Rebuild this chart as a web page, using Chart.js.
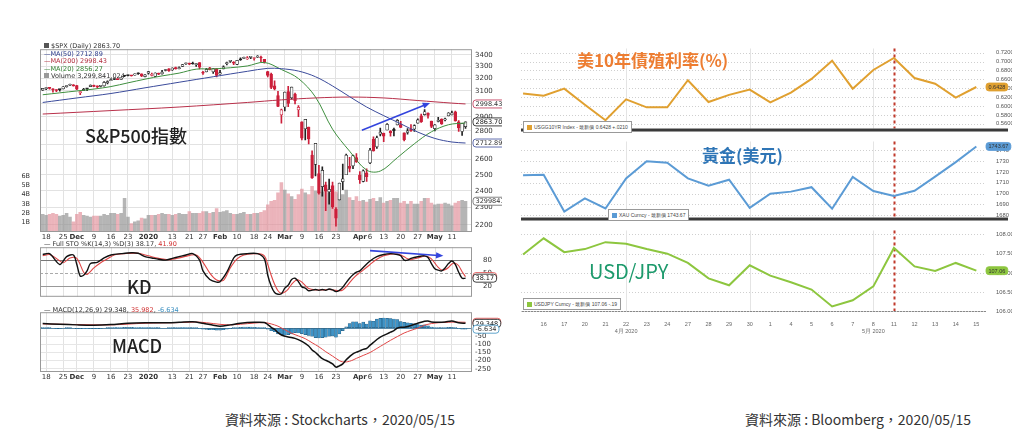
<!DOCTYPE html>
<html>
<head>
<meta charset="utf-8">
<script src="https://cdn.jsdelivr.net/npm/chart.js@4.4.0/dist/chart.umd.min.js"></script>
<style>
  body { margin:0; width:1024px; height:430px; background:#fff; position:relative; overflow:hidden; }
  canvas, .txt { position:absolute; }
  .sc { font-family:"DejaVu Sans",sans-serif; font-size:6.5px; line-height:7.6px; color:#333; white-space:nowrap; }
  .big { font-family:"Noto Sans CJK TC","Noto Sans",sans-serif; line-height:1; white-space:nowrap; }
  .bbleg { font-family:"Liberation Sans",sans-serif; font-size:5px; color:#444; background:#fff; border:1px solid #999; padding:2px 3px; white-space:nowrap; }
  .bbleg i { display:inline-block; width:5px; height:5px; margin-right:2px; vertical-align:-1px; }
  .cap { font-family:"Noto Sans CJK TC",sans-serif; font-size:14px; color:#333; white-space:nowrap; }
</style>
</head>
<body>
<canvas id="price" width="482" height="200" style="left:20px;top:42px"></canvas>
<canvas id="kd" width="482" height="64" style="left:20px;top:240px"></canvas>
<canvas id="macd" width="482" height="77" style="left:20px;top:305px"></canvas>
<canvas id="yld" width="491" height="93" style="left:521px;top:42px"></canvas>
<canvas id="gold" width="491" height="89" style="left:521px;top:135px"></canvas>
<canvas id="jpy" width="491" height="112" style="left:521px;top:224px"></canvas>

<div class="txt sc" style="left:44px;top:43px">
  <div><b style="display:inline-block;width:5px;height:5px;background:#555;margin-right:2px"></b>$SPX (Daily) 2863.70</div>
  <div style="color:#2a3a8a">&#8212;MA(50) 2712.89</div>
  <div style="color:#b23040">&#8212;MA(200) 2998.43</div>
  <div style="color:#2f7f2f">&#8212;MA(20) 2856.27</div>
  <div><b style="display:inline-block;width:5px;height:5px;background:#999;margin-right:2px"></b>Volume 3,299,841,024</div>
</div>
<div class="txt sc" style="left:44px;top:241px">&#8212; Full STO %K(14,3) %D(3) 38.17, <span style="color:#d03030">41.90</span></div>
<div class="txt sc" style="left:44px;top:307px">&#8212; MACD(12,26,9) 29.348, <span style="color:#d03030">35.982</span>, <span style="color:#3a8fc0">-6.634</span></div>

<div class="txt big" style="left:85px;top:126px;font-size:18px;font-weight:500;color:#222">S&amp;P500指數</div>
<div class="txt big" style="left:127px;top:277px;font-size:18px;font-weight:500;color:#222">KD</div>
<div class="txt big" style="left:112px;top:336px;font-size:18px;font-weight:500;color:#222">MACD</div>

<div class="txt big" style="left:577px;top:51px;font-size:17px;font-weight:bold;color:#ed7d31">美10年債殖利率(%)</div>
<div class="txt big" style="left:702px;top:146px;font-size:17px;font-weight:bold;color:#2e75b6">黃金(美元)</div>
<div class="txt big" style="left:589px;top:261px;font-size:20px;color:#1d9a6c">USD/JPY</div>

<div class="txt bbleg" style="left:523px;top:121px"><i style="background:#e0a030"></i>USGG10YR Index - 最新價 0.6428 +.0210</div>
<div class="txt bbleg" style="left:608px;top:209px"><i style="background:#5b9bd5"></i>XAU Curncy - 最新價 1743.67</div>
<div class="txt bbleg" style="left:523px;top:298px"><i style="background:#8dc63f"></i>USDJPY Curncy - 最新價 107.06 -.19</div>

<div class="txt cap" style="left:225px;top:409px">資料來源 : Stockcharts，2020/05/15</div>
<div class="txt cap" style="left:745px;top:409px">資料來源 : Bloomberg，2020/05/15</div>

<script>
// S&P 500 daily, Nov 15 2019 (index 0) to May 15 2020 (index 124)
const spxOpen = [3107,3118,3127,3115,3109,3112,3117,3135,3146,3148,
  3144,3087,3103,3119,3134,3141,3135,3136,3141,3167,
  3183,3195,3195,3192,3223,3226,3225,3227,3247,3240,
  3216,3245,3226,3218,3242,3238,3267,3281,3271,3285,
  3283,3302,3324,3321,3330,3316,3334,3248,3256,3289,
  3256,3282,3236,3280,3324,3344,3335,3318,3366,3370,
  3365,3378,3369,3380,3380,3361,3258,3238,3140,3063,
  2916,2975,3096,3046,3076,2954,2864,2814,2826,2630,
  2569,2509,2426,2437,2394,2431,2291,2345,2457,2501,
  2555,2558,2614,2499,2459,2514,2578,2738,2686,2776,
  2782,2805,2795,2812,2842,2845,2785,2787,2810,2812,
  2854,2909,2918,2930,2869,2815,2868,2884,2879,2909,
  2915,2939,2865,2794,2829];
const spxHigh = [3121,3124,3128,3118,3111,3112,3134,3142,3155,3151,
  3145,3095,3120,3119,3150,3148,3142,3144,3176,3182,
  3198,3198,3198,3206,3226,3227,3226,3240,3247,3240,
  3232,3258,3246,3247,3245,3268,3275,3282,3289,3295,
  3298,3317,3330,3330,3337,3326,3334,3259,3286,3293,
  3286,3282,3268,3306,3337,3348,3342,3353,3375,3381,
  3385,3381,3375,3393,3390,3361,3259,3246,3182,3098,
  2959,3091,3137,3131,3084,2986,2864,2883,2826,2660,
  2711,2563,2553,2454,2473,2454,2300,2449,2571,2637,
  2615,2631,2641,2522,2533,2539,2676,2756,2761,2819,
  2783,2851,2801,2818,2880,2868,2785,2815,2844,2842,
  2887,2922,2955,2931,2869,2844,2898,2887,2892,2933,
  2945,2945,2874,2853,2865];
const spxLow = [3105,3111,3114,3091,3095,3099,3117,3131,3144,3139,
  3110,3070,3103,3103,3134,3135,3126,3133,3138,3156,
  3183,3191,3191,3192,3216,3222,3220,3227,3235,3216,
  3213,3236,3222,3215,3233,3236,3263,3260,3268,3277,
  3280,3302,3318,3316,3321,3302,3281,3235,3254,3271,
  3243,3214,3236,3280,3313,3335,3315,3317,3353,3369,
  3361,3368,3355,3378,3341,3328,3214,3118,3108,2977,
  2855,2945,2977,3035,2999,2902,2734,2734,2706,2478,
  2493,2380,2367,2281,2320,2295,2192,2345,2407,2501,
  2520,2540,2581,2447,2455,2459,2574,2657,2676,2762,
  2722,2805,2761,2762,2842,2821,2727,2775,2794,2795,
  2854,2860,2913,2892,2821,2798,2863,2845,2871,2908,
  2915,2869,2794,2766,2816];
const spxClose = [3120.5,3122.0,3120.2,3108.5,3103.5,3110.3,3133.6,3140.5,3153.6,3141.0,
  3113.9,3093.2,3112.8,3117.4,3145.9,3136.0,3132.5,3141.6,3168.6,3168.8,
  3191.5,3192.5,3191.1,3205.4,3221.2,3224.0,3223.4,3239.9,3240.0,3221.3,
  3230.8,3257.9,3234.9,3246.3,3237.2,3253.1,3274.7,3265.4,3288.1,3283.2,
  3289.3,3316.8,3329.6,3320.8,3321.8,3325.5,3295.5,3243.6,3276.2,3273.4,
  3283.7,3225.5,3248.9,3297.6,3334.7,3345.8,3327.7,3352.1,3357.8,3379.5,
  3373.9,3380.2,3370.3,3386.2,3373.2,3337.8,3225.9,3128.2,3116.4,2978.8,
  2954.2,3090.2,3003.4,3130.1,3023.9,2972.4,2746.6,2882.2,2741.4,2480.6,
  2711.0,2386.1,2529.2,2398.1,2409.4,2304.9,2237.4,2447.3,2475.6,2630.1,
  2541.5,2626.7,2584.6,2470.5,2526.9,2488.7,2663.7,2659.4,2750.0,2789.8,
  2761.6,2846.1,2783.4,2799.6,2874.6,2823.2,2736.6,2799.3,2797.8,2836.7,
  2878.5,2863.4,2939.5,2912.4,2830.7,2842.7,2868.4,2848.4,2881.2,2929.8,
  2930.3,2870.1,2820.0,2852.5,2863.7];
// volume in billions
const spxVolume = [1.9,1.8,1.9,2.0,1.9,1.7,1.8,2.0,1.6,1.1,
  1.9,2.1,1.8,1.7,1.6,1.7,1.7,1.7,1.9,1.8,
  2.0,2.0,1.9,2.0,3.6,1.6,0.9,1.1,1.2,1.5,
  1.4,1.8,1.8,1.8,1.9,2.0,1.9,1.9,1.8,1.9,
  2.0,1.9,1.9,2.2,2.0,2.0,2.0,2.2,2.2,2.0,
  2.1,2.5,2.1,2.2,2.3,2.0,1.9,1.9,2.0,2.1,
  1.9,1.9,2.0,2.0,2.1,2.3,2.9,3.3,3.4,4.2,
  5.3,4.5,4.1,3.8,3.5,4.0,4.6,4.2,4.0,4.9,
  4.4,4.3,4.3,4.7,4.2,5.0,4.3,4.1,4.0,4.5,
  3.7,3.4,3.8,3.3,3.4,3.2,3.5,3.6,3.3,3.7,
  3.1,3.3,3.4,3.6,3.6,3.1,3.3,3.0,3.3,3.0,
  3.0,3.3,3.6,3.6,3.1,2.9,3.0,3.0,3.1,3.0,
  2.8,3.1,3.3,3.4,3.3];

// moving averages, read at selected days
const ma20Day = [0,5,10,15,20,25,30,35,40,45,50,55,60,65,70,75,80,85,90,95,99,104,109,114,119,124];
const ma20 = [3070,3085,3100,3115,3135,3165,3195,3222,3245,3278,3280,3290,3305,3335,3275,3200,3052,2811,2657,2531,2525,2613,2708,2792,2843,2856.27];
const ma50Day = [0,10,20,30,40,50,60,66,70,75,80,85,90,95,100,105,110,115,120,124];
const ma50 = [3010,3045,3080,3125,3170,3215,3260,3285,3282,3262,3215,3140,3055,2975,2910,2850,2790,2745,2720,2712.89];
const ma200Day = [0,20,40,60,70,80,90,100,110,120,124];
const ma200 = [2922,2948,2975,3010,3030,3045,3052,3045,3025,3005,2998.43];

// Full stochastics
const kDay = [0,2,5,7,9,10,11,12,13,14,16,18,20,23,26,28,30,32,34,36,38,40,42,44,46,47,49,51,52,54,56,57,60,63,65,66,67,68,69,70,71,72,73,74,75,76,77,78,80,81,82,83,84,85,86,87,88,89,90,91,92,93,94,96,98,100,102,104,105,106,107,108,110,112,113,114,115,116,117,118,119,120,121,122,123,124];
const kValue = [93,95,70,88,92,70,43,45,55,72,75,85,92,95,97,96,88,85,82,80,84,88,92,95,80,55,35,29,30,52,85,92,95,95,83,45,20,5,1,2,15,22,35,38,30,18,15,9,12,10,12,10,13,11,7,10,17,28,38,46,52,55,63,78,88,93,95,93,90,80,80,84,88,90,86,72,60,57,55,62,72,78,70,52,38,38.17];
const dDay = [0,2,4,6,8,10,12,13,15,17,19,21,24,28,31,34,37,41,45,47,49,51,53,55,57,59,63,65,66,67,68,69,70,71,72,73,74,75,76,77,78,80,82,84,86,87,88,89,90,91,92,93,94,96,98,100,102,104,105,106,107,108,110,112,113,114,115,116,117,118,119,120,121,122,123,124];
const dValue = [90,93,84,74,85,84,52,47,62,74,83,92,95,96,90,84,81,87,92,75,50,34,33,62,83,92,95,90,70,45,24,9,3,6,13,24,32,34,29,21,14,11,11,12,10,9,11,18,28,37,45,51,57,70,82,90,94,94,92,88,83,81,85,89,88,83,73,63,57,58,63,71,73,67,53,41.9];

// MACD(12,26,9)
const macdDay = [0,5,10,15,20,25,30,35,40,44,47,50,52,55,58,62,65,66,67,68,69,70,72,74,76,78,79,80,81,82,83,84,85,86,87,88,89,90,91,92,93,94,95,96,97,98,99,100,101,102,103,104,105,106,108,110,112,113,114,116,118,120,122,124];
const macdValue = [28,24,20,18,22,30,33,33,36,39,30,18,12,20,30,36,35,22,5,-8,-28,-42,-55,-63,-82,-110,-135,-150,-170,-188,-198,-208,-220,-240,-232,-220,-195,-175,-158,-148,-140,-131,-125,-105,-88,-70,-55,-45,-35,-25,-15,0,6,5,16,30,42,44,38,36,38,44,33,29.348];
const signalDay = [0,10,20,30,40,46,50,54,58,62,65,67,69,71,73,75,77,79,81,83,85,87,88,89,90,91,92,94,96,98,100,102,104,106,108,110,112,114,116,118,120,122,124];
const signalValue = [26,22,20,30,34,37,28,20,24,31,34,26,12,-10,-32,-48,-65,-90,-115,-145,-172,-200,-208,-208,-204,-196,-186,-168,-150,-125,-100,-75,-52,-30,-14,0,18,28,33,35,37,37,35.982];
const histValue = [2,2,1,0,-1,-1,0,1,1,0,
  -1,-2,-3,-3,-2,-2,-2,-1,0,1,
  2,3,3,4,5,5,5,4,4,3,
  3,3,2,1,1,0,0,1,2,2,
  2,3,3,2,2,1,-3,-6,-8,-10,
  -10,-12,-12,-10,-6,-2,1,3,5,6,
  6,6,5,4,2,1,-6,-16,-22,-36,
  -40,-42,-40,-35,-28,-30,-34,-40,-45,-50,
  -58,-60,-58,-55,-50,-48,-56,-35,-15,8,
  28,38,38,28,37,25,45,42,55,60,
  62,60,58,56,52,40,35,32,30,26,
  22,18,20,14,6,3,2,1,3,5,
  5,1,-3,-6,-6.634];

// date axis (left chart)
const spxTickDay = [1,6,10,15,20,25,31,38,43,47,52,57,62,66,71,76,81,86,93,96,100,105,110,115,120];
const spxTickText = ['18','25','Dec','9','16','23','2020','13','21','27','Feb','10','18','24','Mar','9','16','23','Apr','6','13','20','27','May','11'];
const spxBoldTicks = ['Dec','2020','Feb','Mar','Apr','May'];
const priceTicks = [2200,2300,2400,2500,2600,2700,2800,2900,3000,3100,3200,3300,3400];
const volumeTicks = [1,2,3,4,5,6];
const kdTicks = [20,50,80];
const macdTicks = [-250,-200,-150,-100,-50,0];
// hand-drawn arrows: [fromDay, fromValue, toDay, toValue]
const priceArrow = [93.6, 2804, 113.6, 3006];
const kdArrow = [96, 102, 117.5, 90];

// Bloomberg panel, Apr 15 - May 15 2020
const bbDays = ['15','16','17','20','21','22','23','24','27','28','29','30','1','4','5','6','7','8','11','12','13','14','15'];
const us10y = [0.628,0.623,0.639,0.603,0.568,0.615,0.597,0.597,0.658,0.609,0.625,0.637,0.608,0.630,0.661,0.702,0.639,0.681,0.708,0.663,0.650,0.619,0.6428];
const gold = [1716.9,1717.4,1683.3,1695.6,1686.2,1714.1,1730.0,1728.6,1714.1,1707.3,1712.8,1686.8,1699.9,1701.8,1705.9,1686.0,1715.5,1702.4,1697.7,1702.6,1715.7,1729.2,1743.67];
const usdjpy = [107.48,107.90,107.54,107.62,107.80,107.76,107.62,107.50,107.26,106.86,106.68,107.20,106.93,106.76,106.57,106.13,106.29,106.65,107.65,107.17,107.05,107.26,107.06];
const yieldTicks = [0.56,0.58,0.60,0.62,0.64,0.66,0.68,0.70,0.72];
const goldTicks = [1680,1690,1700,1710,1720,1730,1740];
const jpyTicks = [106.0,106.5,107.0,107.5,108.0];
const monthNote = {5:'4月 2020', 17:'5月 2020'};
const bbGridDays = [5,11,17];
const markDay = 18;

Chart.defaults.font.family = 'DejaVu Sans';
Chart.defaults.animation = false;
Chart.defaults.events = [];
Chart.defaults.plugins.legend.display = false;
Chart.defaults.plugins.tooltip.enabled = false;

const RED = '#cc1f3a', BLK = '#222';
const pts = (days, vals) => days.map((d, i) => ({x: d, y: vals[i]}));

// little plugins
const frame = { id:'frame', afterDraw(c) {
  const a = c.chartArea, g = c.ctx;
  g.save(); g.strokeStyle = '#999'; g.lineWidth = 1;
  g.strokeRect(a.left + .5, a.top + .5, a.width - 1, a.height - 1); g.restore();
}};
function hLines(axis, lines) {
  return { id:'hl', beforeDatasetsDraw(c) {
    const s = c.scales[axis], a = c.chartArea, g = c.ctx;
    lines.forEach(l => {
      const y = Math.round(s.getPixelForValue(l.v)) + .5;
      g.save(); g.strokeStyle = l.color; g.lineWidth = l.w || 1; g.setLineDash(l.dash || []);
      g.beginPath(); g.moveTo(a.left, y); g.lineTo(a.right, y); g.stroke(); g.restore();
    });
  }};
}
function vLines(lines) {
  return { id:'vl', beforeDatasetsDraw(c) {
    const s = c.scales.x, a = c.chartArea, g = c.ctx;
    lines.forEach(l => {
      const x = Math.round(s.getPixelForValue(l.v)) + .5;
      g.save(); g.strokeStyle = l.color; g.lineWidth = l.w || 1; g.setLineDash(l.dash || []);
      g.beginPath(); g.moveTo(x, a.top); g.lineTo(x, a.bottom); g.stroke(); g.restore();
    });
  }};
}
function tags(list) {
  return { id:'tags', afterDraw(c) {
    const g = c.ctx;
    list.forEach(t => {
      const s = c.scales[t.axis], y = s.getPixelForValue(t.v), x = c.scales[t.at || t.axis].left + 1;
      g.save(); g.font = t.font || '6.5px DejaVu Sans';
      const w = g.measureText(t.text).width + 5, h = 8;
      g.beginPath(); g.roundRect(x, y - h / 2, w, h, 3);
      g.fillStyle = t.fill || '#fff'; g.fill();
      g.strokeStyle = t.color; g.lineWidth = 0.8; g.stroke();
      g.fillStyle = t.textColor || t.color; g.textBaseline = 'middle';
      g.fillText(t.text, x + 2.5, y + .5); g.restore();
    });
  }};
}
function arrow(axis, a) {
  return { id:'arrow', afterDatasetsDraw(c) {
    const sx = c.scales.x, sy = c.scales[axis], g = c.ctx;
    const x0 = sx.getPixelForValue(a[0]), y0 = sy.getPixelForValue(a[1]);
    const x1 = sx.getPixelForValue(a[2]), y1 = sy.getPixelForValue(a[3]);
    const ang = Math.atan2(y1 - y0, x1 - x0);
    g.save(); g.strokeStyle = g.fillStyle = '#3344dd'; g.lineWidth = 1.6;
    g.beginPath(); g.moveTo(x0, y0); g.lineTo(x1 - 5 * Math.cos(ang), y1 - 5 * Math.sin(ang)); g.stroke();
    g.beginPath(); g.moveTo(x1, y1);
    g.lineTo(x1 - 8 * Math.cos(ang - .4), y1 - 8 * Math.sin(ang - .4));
    g.lineTo(x1 - 8 * Math.cos(ang + .4), y1 - 8 * Math.sin(ang + .4));
    g.closePath(); g.fill(); g.restore();
  }};
}
function separator() {
  return { id:'sep', afterDraw(c) {
    const g = c.ctx;
    g.save(); g.fillStyle = '#3a3a3a'; g.fillRect(0, c.chartArea.bottom, c.width - 4, 3); g.restore();
  }};
}

// ---------- Stockcharts side ----------
const days = spxClose.map((v, i) => i);
const downDay = spxClose.map((c, i) => i > 0 && c < spxClose[i - 1]);
const candleColor = downDay.map(d => d ? RED : BLK);
const dateAxis = (show) => ({
  type:'linear', min:-0.8, max:125.9, offset:false, display: show ? true : false,
  afterBuildTicks: s => { s.ticks = spxTickDay.map(v => ({value: v})); },
  afterFit: s => { s.height = show ? 10 : 0; },
  grid:{ color:'#e2e2e2', drawTicks:false, offset:false },
  border:{ display:false },
  ticks:{ autoSkip:false, maxRotation:0, padding:1, color:'#333',
    font: ctx => ({ size:7, weight: spxBoldTicks.includes(spxTickText[spxTickDay.indexOf(ctx.tick && ctx.tick.value)]) ? 'bold' : 'normal' }),
    callback: v => spxTickText[spxTickDay.indexOf(v)] }
});

new Chart(document.getElementById('price'), {
  type:'bar',
  data:{ datasets:[
    { type:'line', data:pts(ma50Day, ma50), borderColor:'#3a4a9a', borderWidth:1, pointRadius:0, tension:.35, order:0 },
    { type:'line', data:pts(ma200Day, ma200), borderColor:'#b8304a', borderWidth:1, pointRadius:0, tension:.35, order:0 },
    { type:'line', data:pts(ma20Day, ma20), borderColor:'#3f8f3f', borderWidth:1, pointRadius:0, tension:.35, order:0 },
    { data: days.map(i => ({x:i, y:[spxOpen[i], spxClose[i]]})), grouped:false, barThickness:2.8, minBarLength:1,
      backgroundColor: days.map(i => spxClose[i] < spxOpen[i] ? candleColor[i] : '#fff'),
      borderColor: candleColor, borderWidth:0.7, borderSkipped:false, order:1 },
    { data: days.map(i => ({x:i, y:[spxLow[i], spxHigh[i]]})), grouped:false, barThickness:1,
      backgroundColor: candleColor, order:2 },
    { data: days.map(i => ({x:i, y:spxVolume[i] * 1e9})), yAxisID:'vol', grouped:false, barThickness:2.9,
      backgroundColor: downDay.map(d => d ? 'rgba(225,140,150,0.65)' : 'rgba(150,150,150,0.7)'), order:5 }
  ]},
  options:{
    responsive:false, layout:{ padding:{ top:2 } },
    scales:{
      x: dateAxis(true),
      y:{ type:'logarithmic', position:'right', min:2160, max:3450,
        afterBuildTicks: s => { s.ticks = priceTicks.map(v => ({value: v})); },
        afterFit: s => { s.width = 30; },
        grid:{ color:'#e2e2e2', drawTicks:false }, border:{ display:false },
        ticks:{ padding:3, color:'#333', font:{ size:7 }, callback: v => String(v) } },
      vol:{ type:'linear', position:'left', min:0, max:19.6e9,
        afterBuildTicks: s => { s.ticks = volumeTicks.map(v => ({value: v * 1e9})); },
        afterFit: s => { s.width = 20; },
        grid:{ display:false }, border:{ display:false },
        ticks:{ padding:2, color:'#333', font:{ size:6.5 }, callback: v => (v / 1e9) + 'B' } }
    }
  },
  plugins:[frame, arrow('y', priceArrow), tags([
    { axis:'y', v:2998.43, text:'2998.43', color:'#c03050', textColor:'#333' },
    { axis:'y', v:2863.70, text:'2863.70', color:'#111' },
    { axis:'y', v:2712.89, text:'2712.89', color:'#3a4a9a', textColor:'#333' },
    { axis:'vol', at:'y', v:3.3e9, text:'3299841', color:'#666', textColor:'#333' }
  ])]
});

new Chart(document.getElementById('kd'), {
  type:'line',
  data:{ datasets:[
    { data:pts(kDay, kValue), borderColor:'#111', borderWidth:1.4, pointRadius:0, tension:.3 },
    { data:pts(dDay, dValue), borderColor:'#e04545', borderWidth:1.1, pointRadius:0, tension:.3 }
  ]},
  options:{
    responsive:false, layout:{ padding:{ left:20 } },
    scales:{
      x: dateAxis(false),
      y:{ position:'right', min:-5, max:110,
        afterBuildTicks: s => { s.ticks = kdTicks.map(v => ({value: v})); },
        afterFit: s => { s.width = 30; },
        grid:{ display:false }, border:{ display:false },
        ticks:{ padding:3, color:'#333', font:{ size:7 } } }
    }
  },
  plugins:[frame, vLines(spxTickDay.map(v => ({v, color:'#e2e2e2'}))),
    hLines('y', [{v:80, color:'#777'}, {v:50, color:'#aaa', dash:[3,2]}, {v:20, color:'#999'}]),
    arrow('y', kdArrow),
    tags([{ axis:'y', v:41.90, text:'41.90', color:'#e04545', textColor:'#333' },
          { axis:'y', v:38.17, text:'38.17', color:'#111' }])]
});

new Chart(document.getElementById('macd'), {
  type:'bar',
  data:{ datasets:[
    { type:'line', data:pts(macdDay, macdValue), borderColor:'#111', borderWidth:1.5, pointRadius:0, tension:.3, order:0 },
    { type:'line', data:pts(signalDay, signalValue), borderColor:'#e04545', borderWidth:1, pointRadius:0, tension:.3, order:0 },
    { data: days.map(i => ({x:i, y:histValue[i]})), grouped:false, barThickness:2.9,
      backgroundColor:'#3f93c6', borderColor:'#1d4e6e', borderWidth:0.4, borderSkipped:false, order:2 }
  ]},
  options:{
    responsive:false, layout:{ padding:{ left:20 } },
    scales:{
      x: dateAxis(true),
      y:{ position:'right', min:-270, max:98,
        afterBuildTicks: s => { s.ticks = macdTicks.map(v => ({value: v})); },
        afterFit: s => { s.width = 30; },
        grid:{ color:'#e6e6e6', drawTicks:false }, border:{ display:false },
        ticks:{ padding:3, color:'#333', font:{ size:7 } } }
    }
  },
  plugins:[frame, hLines('y', [{v:0, color:'#5a8aa8'}]),
    tags([{ axis:'y', v:35.982, text:'35.982', color:'#e04545', textColor:'#333' },
          { axis:'y', v:29.348, text:'29.348', color:'#111' },
          { axis:'y', v:-6.634, text:'-6.634', color:'#3a8fc0', textColor:'#333' }])]
});

// ---------- Bloomberg side ----------
const bbIdx = bbDays.map((d, i) => i);
function bbChart(id, values, color, min, max, ticks, digits, tagText, showX) {
  new Chart(document.getElementById(id), {
    type:'line',
    data:{ datasets:[{ data: bbIdx.map(i => ({x:i, y:values[i]})), borderColor:color, borderWidth:2, pointRadius:0, tension:0 }] },
    options:{
      responsive:false, layout:{ padding:{ bottom: showX ? 0 : 3 } },
      scales:{
        x:{ type:'linear', min:-0.1, max:22.42, display: showX,
          afterBuildTicks: s => { s.ticks = bbIdx.map(v => ({value: v})); },
          afterFit: s => { s.height = showX ? 25 : 0; },
          grid:{ display:false }, border:{ color:'#888' },
          ticks:{ autoSkip:false, maxRotation:0, padding:2, color:'#666', font:{ family:'Liberation Sans', size:5.5, lineHeight:1.3 },
            callback: v => v === 0 ? '' : (monthNote[v] ? [bbDays[v], monthNote[v]] : bbDays[v]) } },
        y:{ position:'right', min, max,
          afterBuildTicks: s => { s.ticks = ticks.map(v => ({value: v})); },
          afterFit: s => { s.width = 27; },
          grid:{ display:false }, border:{ display:false },
          ticks:{ padding:3, color:'#555', font:{ family:'Liberation Sans', size:5.8 }, callback: v => v.toFixed(digits) } }
      }
    },
    plugins:[
      hLines('y', ticks.map(v => ({v, color:'#cfcfcf', dash:[1,2]}))),
      vLines(bbGridDays.map(v => ({v, color:'#e4e4e4'})).concat([{v:markDay, color:'#c0392b', w:2, dash:[3,3]}])),
      tags([{ axis:'y', v:values[values.length - 1], text:tagText, color:color, fill:color, textColor:'#333', font:'5.5px Liberation Sans' }])
    ].concat(showX ? [] : [separator()])
  });
}
bbChart('yld', us10y, '#e0a030', 0.5494, 0.7294, yieldTicks, 4, '0.6428', false);
bbChart('gold', gold, '#5b9bd5', 1677.8, 1748.3, goldTicks, 0, '1743.67', false);
bbChart('jpy', usdjpy, '#8dc63f', 106.012, 108.103, jpyTicks, 2, '107.06', true);
</script>
</body>
</html>
